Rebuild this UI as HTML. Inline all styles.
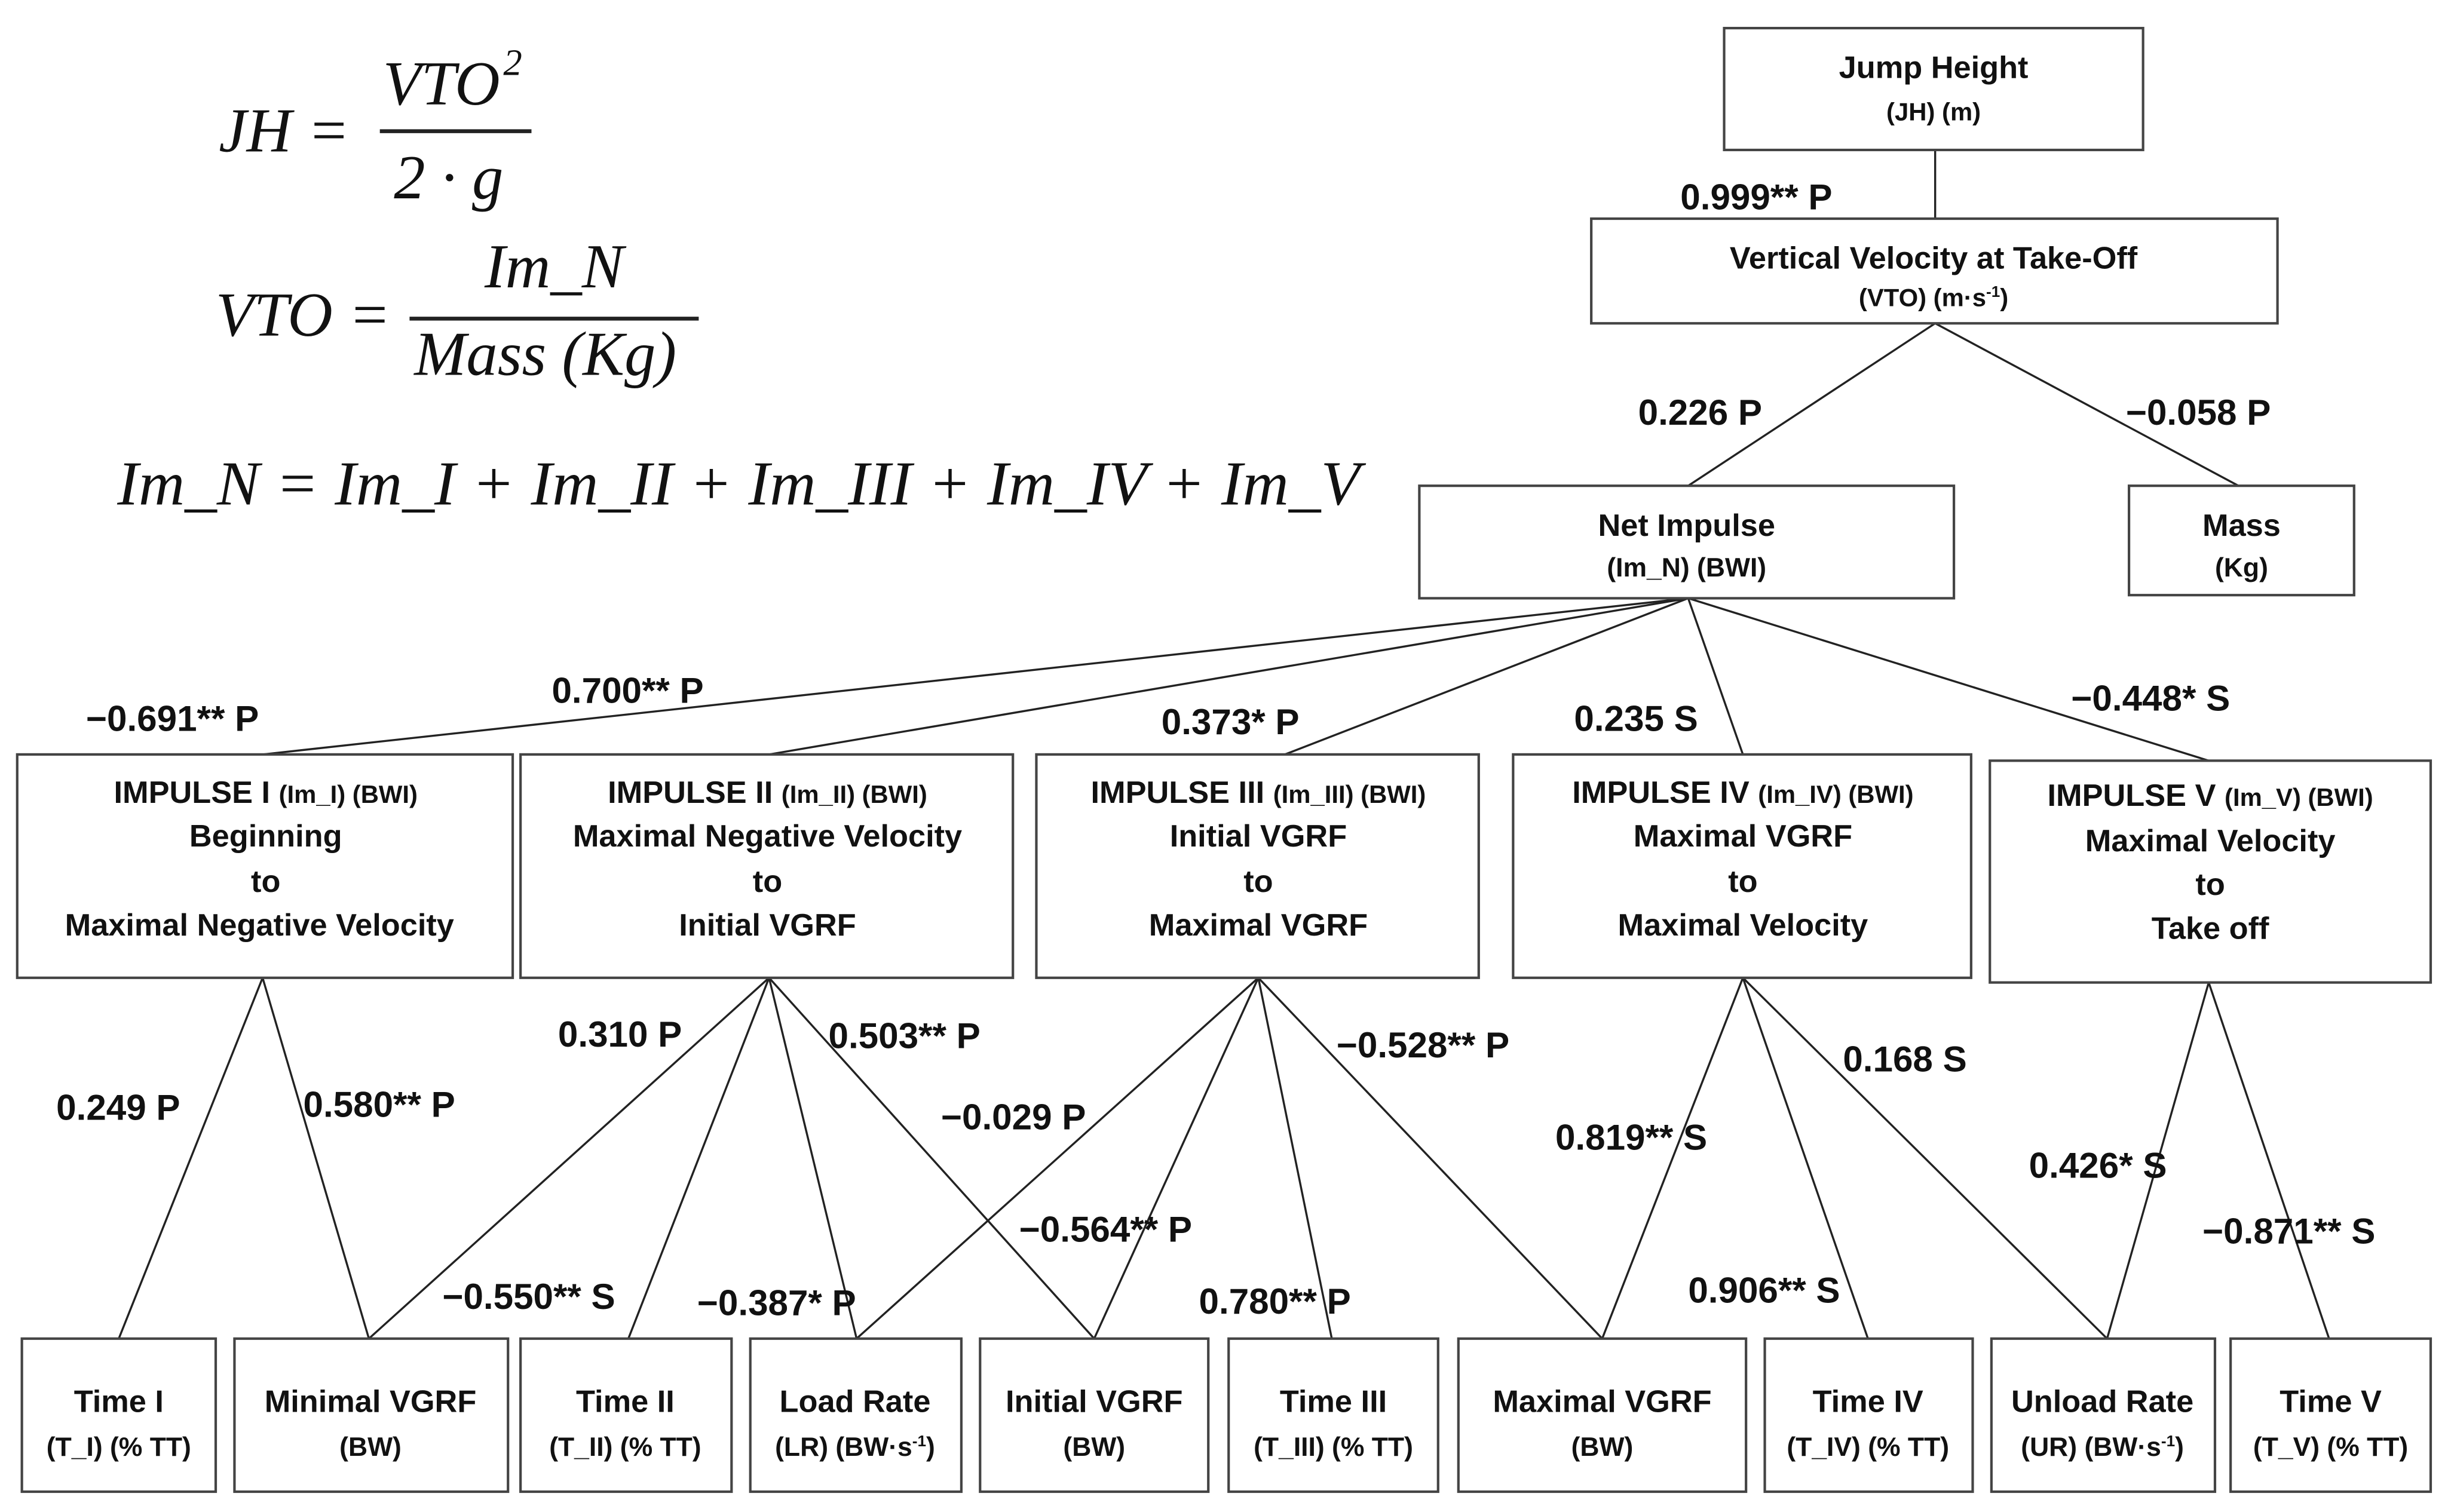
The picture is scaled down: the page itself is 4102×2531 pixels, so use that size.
<!DOCTYPE html>
<html><head><meta charset="utf-8"><style>
html,body{margin:0;padding:0;background:#fff;}
svg{display:block;}
.b{font-family:"Liberation Sans",Arial,sans-serif;font-weight:bold;fill:#111;}
.m{font-family:"Liberation Serif",serif;font-style:italic;fill:#111;}
rect{fill:#fff;stroke:#444;stroke-width:1.6;}
line{stroke:#222;stroke-width:1.3;}
</style></head><body>
<svg width="4102" height="2531" viewBox="0 0 1568 968" preserveAspectRatio="none" xmlns="http://www.w3.org/2000/svg">
<!-- formulas -->
<text class="m" x="140" y="97" font-size="40">JH =</text>
<text class="m" x="245" y="67" font-size="40">VTO</text>
<text class="m" x="322" y="48" font-size="24">2</text>
<line x1="243" y1="84" x2="340" y2="84" style="stroke-width:2.5"/>
<text class="m" x="252" y="127" font-size="40">2 · g</text>
<text class="m" x="138" y="215" font-size="40">VTO =</text>
<text class="m" x="310" y="184" font-size="40">Im_N</text>
<line x1="262" y1="204" x2="447" y2="204" style="stroke-width:2.5"/>
<text class="m" x="265" y="240" font-size="40">Mass (Kg)</text>
<text class="m" x="75" y="323" font-size="40" textLength="795" lengthAdjust="spacingAndGlyphs">Im_N = Im_I + Im_II + Im_III + Im_IV + Im_V</text>

<!-- connectors -->
<line x1="1238" y1="96" x2="1238" y2="140"/>
<line x1="1238" y1="207" x2="1080" y2="311"/>
<line x1="1238" y1="207" x2="1432" y2="311"/>
<line x1="1080" y1="383" x2="168" y2="483"/>
<line x1="1080" y1="383" x2="492" y2="483"/>
<line x1="1080" y1="383" x2="822" y2="483"/>
<line x1="1080" y1="383" x2="1115" y2="483"/>
<line x1="1080" y1="383" x2="1413" y2="487"/>
<line x1="168" y1="626" x2="76" y2="857"/>
<line x1="168" y1="626" x2="236" y2="857"/>
<line x1="492" y1="626" x2="236" y2="857"/>
<line x1="492" y1="626" x2="402" y2="857"/>
<line x1="492" y1="626" x2="548" y2="857"/>
<line x1="492" y1="626" x2="700" y2="857"/>
<line x1="805" y1="626" x2="548" y2="857"/>
<line x1="805" y1="626" x2="700" y2="857"/>
<line x1="805" y1="626" x2="852" y2="857"/>
<line x1="805" y1="626" x2="1025" y2="857"/>
<line x1="1115" y1="626" x2="1025" y2="857"/>
<line x1="1115" y1="626" x2="1195" y2="857"/>
<line x1="1115" y1="626" x2="1348" y2="857"/>
<line x1="1413" y1="629" x2="1348" y2="857"/>
<line x1="1413" y1="629" x2="1490" y2="857"/>

<!-- top boxes -->
<rect x="1103" y="18" width="268" height="78"/>
<text class="b" x="1237" y="50" font-size="20" text-anchor="middle">Jump Height</text>
<text class="b" x="1237" y="77" font-size="16" text-anchor="middle">(JH) (m)</text>
<rect x="1018" y="140" width="439" height="67"/>
<text class="b" x="1237" y="172" font-size="20" text-anchor="middle">Vertical Velocity at Take-Off</text>
<text class="b" x="1237" y="196" font-size="16" text-anchor="middle">(VTO) (m·s<tspan font-size="10" dy="-6">-1</tspan><tspan dy="6">)</tspan></text>
<rect x="908" y="311" width="342" height="72"/>
<text class="b" x="1079" y="343" font-size="20" text-anchor="middle">Net Impulse</text>
<text class="b" x="1079" y="369" font-size="17" text-anchor="middle">(Im_N) (BWI)</text>
<rect x="1362" y="311" width="144" height="70"/>
<text class="b" x="1434" y="343" font-size="20" text-anchor="middle">Mass</text>
<text class="b" x="1434" y="369" font-size="17" text-anchor="middle">(Kg)</text>

<!-- impulse boxes -->
<g font-size="20" text-anchor="middle" class="b">
<rect x="11" y="483" width="317" height="143"/>
<text class="b" x="170" y="514">IMPULSE I <tspan font-size="16">(Im_I) (BWI)</tspan></text>
<text class="b" x="170" y="542">Beginning</text>
<text class="b" x="170" y="571">to</text>
<text class="b" x="166" y="599">Maximal Negative Velocity</text>
<rect x="333" y="483" width="315" height="143"/>
<text class="b" x="491" y="514">IMPULSE II <tspan font-size="16">(Im_II) (BWI)</tspan></text>
<text class="b" x="491" y="542">Maximal Negative Velocity</text>
<text class="b" x="491" y="571">to</text>
<text class="b" x="491" y="599">Initial VGRF</text>
<rect x="663" y="483" width="283" height="143"/>
<text class="b" x="805" y="514">IMPULSE III <tspan font-size="16">(Im_III) (BWI)</tspan></text>
<text class="b" x="805" y="542">Initial VGRF</text>
<text class="b" x="805" y="571">to</text>
<text class="b" x="805" y="599">Maximal VGRF</text>
<rect x="968" y="483" width="293" height="143"/>
<text class="b" x="1115" y="514">IMPULSE IV <tspan font-size="16">(Im_IV) (BWI)</tspan></text>
<text class="b" x="1115" y="542">Maximal VGRF</text>
<text class="b" x="1115" y="571">to</text>
<text class="b" x="1115" y="599">Maximal Velocity</text>
<rect x="1273" y="487" width="282" height="142"/>
<text class="b" x="1414" y="516">IMPULSE V <tspan font-size="16">(Im_V) (BWI)</tspan></text>
<text class="b" x="1414" y="545">Maximal Velocity</text>
<text class="b" x="1414" y="573">to</text>
<text class="b" x="1414" y="601">Take off</text>
</g>

<!-- bottom boxes -->
<g text-anchor="middle">
<rect x="14" y="857" width="124" height="98"/>
<text class="b" x="76" y="904" font-size="20">Time I</text>
<text class="b" x="76" y="932" font-size="17">(T_I) (% TT)</text>
<rect x="150" y="857" width="175" height="98"/>
<text class="b" x="237" y="904" font-size="20">Minimal VGRF</text>
<text class="b" x="237" y="932" font-size="17">(BW)</text>
<rect x="333" y="857" width="135" height="98"/>
<text class="b" x="400" y="904" font-size="20">Time II</text>
<text class="b" x="400" y="932" font-size="17">(T_II) (% TT)</text>
<rect x="480" y="857" width="135" height="98"/>
<text class="b" x="547" y="904" font-size="20">Load Rate</text>
<text class="b" x="547" y="932" font-size="17">(LR) (BW·s<tspan font-size="10" dy="-6">-1</tspan><tspan dy="6">)</tspan></text>
<rect x="627" y="857" width="146" height="98"/>
<text class="b" x="700" y="904" font-size="20">Initial VGRF</text>
<text class="b" x="700" y="932" font-size="17">(BW)</text>
<rect x="786" y="857" width="134" height="98"/>
<text class="b" x="853" y="904" font-size="20">Time III</text>
<text class="b" x="853" y="932" font-size="17">(T_III) (% TT)</text>
<rect x="933" y="857" width="184" height="98"/>
<text class="b" x="1025" y="904" font-size="20">Maximal VGRF</text>
<text class="b" x="1025" y="932" font-size="17">(BW)</text>
<rect x="1129" y="857" width="133" height="98"/>
<text class="b" x="1195" y="904" font-size="20">Time IV</text>
<text class="b" x="1195" y="932" font-size="17">(T_IV) (% TT)</text>
<rect x="1274" y="857" width="143" height="98"/>
<text class="b" x="1345" y="904" font-size="20">Unload Rate</text>
<text class="b" x="1345" y="932" font-size="17">(UR) (BW·s<tspan font-size="10" dy="-6">-1</tspan><tspan dy="6">)</tspan></text>
<rect x="1427" y="857" width="128" height="98"/>
<text class="b" x="1491" y="904" font-size="20">Time V</text>
<text class="b" x="1491" y="932" font-size="17">(T_V) (% TT)</text>
</g>

<!-- labels -->
<g font-size="23">
<text class="b" x="1075" y="134">0.999** P</text>
<text class="b" x="1048" y="272">0.226 P</text>
<text class="b" x="1360" y="272">−0.058 P</text>
<text class="b" x="55" y="468">−0.691** P</text>
<text class="b" x="353" y="450">0.700** P</text>
<text class="b" x="743" y="470">0.373* P</text>
<text class="b" x="1007" y="468">0.235 S</text>
<text class="b" x="1325" y="455">−0.448* S</text>
<text class="b" x="36" y="717">0.249 P</text>
<text class="b" x="194" y="715">0.580** P</text>
<text class="b" x="357" y="670">0.310 P</text>
<text class="b" x="530" y="671">0.503** P</text>
<text class="b" x="602" y="723">−0.029 P</text>
<text class="b" x="283" y="838">−0.550** S</text>
<text class="b" x="446" y="842">−0.387* P</text>
<text class="b" x="652" y="795">−0.564** P</text>
<text class="b" x="767" y="841">0.780** P</text>
<text class="b" x="855" y="677">−0.528** P</text>
<text class="b" x="995" y="736">0.819** S</text>
<text class="b" x="1080" y="834">0.906** S</text>
<text class="b" x="1179" y="686">0.168 S</text>
<text class="b" x="1298" y="754">0.426* S</text>
<text class="b" x="1409" y="796">−0.871** S</text>
</g>
</svg>
</body></html>
